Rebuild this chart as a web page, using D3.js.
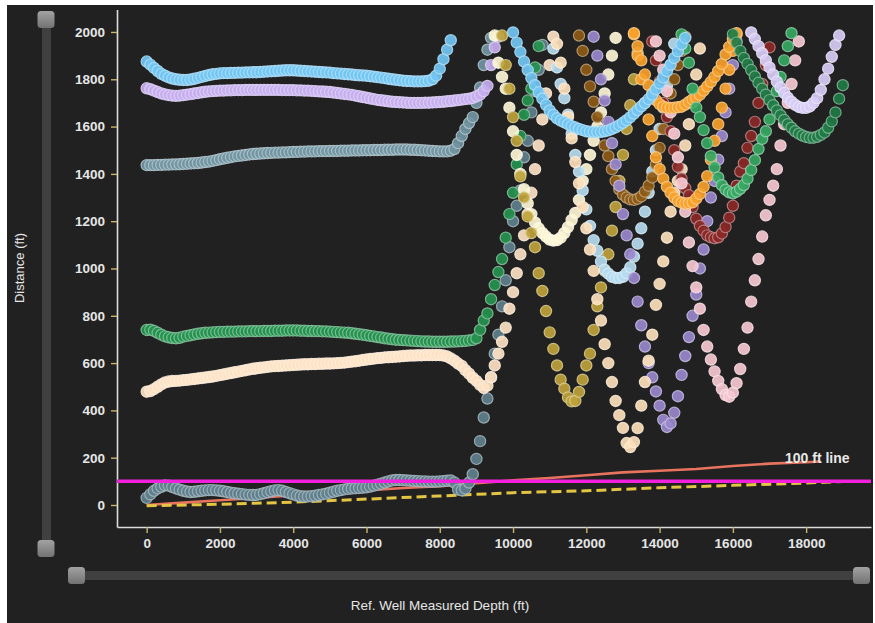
<!DOCTYPE html>
<html>
<head>
<meta charset="utf-8">
<script src="https://cdn.jsdelivr.net/npm/d3@7"></script>
<style>
  html, body { margin: 0; padding: 0; background: #ffffff; }
  svg { display: block; }
  text { font-family: "Liberation Sans", Arial, sans-serif; }
</style>
</head>
<body>
<svg id="chart" width="875" height="623"></svg>
<script>
// Survey stations are every 100 ft of measured depth along each offset well.
const STATION_STEP = 100;

// Centre-to-centre distance (ft) from the reference well, per offset well.
const lightBlueStartA = 0;
const lightBlueA = [
  1875,1862,1848,1835,1823,1815,1808,1803,1800,1798,
  1797,1797,1799,1802,1806,1810,1814,1818,1821,1823,
  1825,1826,1826,1827,1827,1828,1828,1829,1829,1830,
  1830,1831,1832,1833,1834,1835,1836,1837,1838,1838,
  1838,1837,1836,1835,1834,1833,1832,1831,1830,1829,
  1828,1826,1825,1824,1822,1821,1820,1818,1817,1816,
  1815,1813,1811,1809,1807,1805,1802,1800,1798,1796,
  1794,1793,1792,1791,1791,1791,1792,1794,1800,1815,
  1845,1885,1925,1965
];
const lightBlueStartB = 10000;
const lightBlueB = [
  1998,1955,1915,1875,1839,1805,1775,1745,1718,1692,
  1668,1650,1635,1625,1618,1610,1602,1596,1590,1585,
  1580,1578,1577,1577,1578,1580,1584,1590,1597,1606,
  1616,1627,1640,1655,1670,1685,1700,1716,1735,1758,
  1782,1808,1834,1862,1890,1918,1948,1975
];
const lavenderStartA = 0;
const lavenderA = [
  1762,1758,1752,1746,1740,1736,1733,1731,1730,1731,
  1733,1735,1737,1740,1742,1745,1747,1749,1750,1751,
  1752,1752,1753,1753,1754,1754,1754,1755,1755,1755,
  1755,1755,1755,1755,1755,1755,1755,1754,1754,1754,
  1754,1753,1753,1752,1752,1751,1750,1749,1748,1747,
  1746,1744,1742,1740,1738,1736,1734,1731,1728,1725,
  1722,1719,1716,1713,1711,1709,1707,1705,1704,1703,
  1702,1701,1700,1700,1700,1700,1701,1701,1702,1703,
  1704,1705,1707,1708,1710,1712,1714,1716,1718,1721,
  1728,1735,1750,1772,1860,1935,1980
];
const lavenderStartB = 16500;
const lavenderB = [
  1998,1970,1940,1910,1880,
  1850,1820,1790,1765,1742,1722,1705,1692,1683,1679,
  1679,1685,1700,1720,1755,1800,1845,1895,1945,1985
];
const slateTopStart = 0;
const slateTop = [
  1437,1437,1437,1438,1438,1439,1439,1440,1440,1441,
  1442,1443,1444,1445,1446,1448,1450,1452,1455,1458,
  1462,1465,1468,1471,1474,1476,1478,1480,1482,1484,
  1485,1486,1487,1488,1489,1490,1490,1491,1491,1492,
  1493,1493,1494,1494,1495,1495,1495,1496,1496,1496,
  1497,1497,1497,1498,1498,1498,1499,1499,1499,1500,
  1500,1500,1501,1501,1501,1502,1502,1502,1503,1503,
  1503,1503,1502,1502,1501,1500,1499,1498,1497,1496,
  1495,1495,1495,1498,1505,1530,1560,1590,1615,1640,
  1700,1765,1860,1925,1975
];
const slateBottomStart = 0;
const slateBottom = [
  30,45,60,70,77,83,82,76,70,65,
  60,57,55,56,58,60,62,63,63,62,
  60,58,55,52,50,48,46,44,43,42,
  43,46,50,54,58,62,63,60,55,50,
  45,40,37,36,36,37,39,42,45,48,
  52,56,60,63,66,68,70,71,72,73,
  75,78,82,86,90,95,100,104,106,106,
  105,104,103,102,101,100,100,99,99,99,
  100,101,103,104,95,65,62,70,95,130,
  195,270,370,450,540,640,720,840,950,1090,
  1200,1265,1330,1470,1540,1660,1750,1840,1945
];
const greenStart = 0;
const green = [
  740,741,736,728,720,713,709,706,705,707,
  712,715,718,721,724,726,728,729,730,731,
  732,732,733,733,733,734,734,734,735,735,
  735,735,736,736,736,737,737,737,738,738,
  738,738,737,737,736,736,735,735,734,734,
  733,732,731,730,729,728,726,724,722,720,
  718,715,713,710,708,705,703,701,699,698,
  697,696,695,694,693,692,691,691,690,690,
  690,690,690,691,691,692,693,694,696,698,
  705,740,780,810,870,930,985,1040,1130,1230,
  1320,1440,1560,1650,1710,1760,1850,1940
];
const bisqueStartA = 0;
const bisqueA = [
  479,482,490,500,510,518,522,524,525,526,
  528,529,531,533,535,537,539,541,543,546,
  549,552,555,558,561,564,567,570,573,576,
  578,580,582,584,586,587,588,589,590,591,
  592,593,594,595,595,596,596,597,597,598,
  598,599,600,601,602,604,606,608,610,613,
  615,617,619,621,622,624,625,626,627,628,
  630,631,632,632,633,633,634,634,634,634,
  634,632,628,620,610,598,588,570,555,538,
  525,508,495,505,540,590,640,690,750,830,
  900,980,1060,1140,1230,1320,1420,1520,1630,1740,
  1860,1980
];
const bisqueStartB = 11200;
const bisqueB = [
  1950,1870,1760,1640,1550,1450,1360,1260,
  1170,1080,990,870,780,680,600,520,440,380,
  326,262,245,266,325,420,520,610,720,846,
  935,1030,1130,1240,1320,1370,1420,1520,1610,1700,
  1820,1930
];
const cornsilkStart = 9500;
const cornsilk = [
  1985,1870,1810,1760,1680,
  1580,1480,1400,1335,1275,1230,1195,1170,1150,1135,
  1122,1118,1120,1130,1150,1175,1205,1235,1290,1370,
  1420,1480,1540,1600,1660,1740,1820,1900,1975
];
const oliveStart = 9700;
const olive = [
  1985,1860,1760,
  1640,1540,1390,1300,1220,1150,1090,980,905,820,
  730,660,590,530,492,455,438,440,478,530,
  590,640,740,840,920,990,1060,1160,1260,1370,
  1480,1590,1690,1800,1910
];
const paleBlueStart = 11100;
const paleBlue = [
  1930,1850,1780,1720,1650,1570,1480,1410,1330,
  1250,1180,1120,1075,1030,995,978,965,960,960,
  965,980,1005,1050,1105,1170,1240,1320,1410,1500,
  1590,1680,1770,1860,1950
];
const brownStart = 11800;
const brown = [
  1985,1920,
  1840,1770,1705,1640,1580,1520,1475,1420,1370,1335,
  1312,1300,1292,1290,1295,1305,1325,1350,1385,1440,
  1510,1590,1670,1740,1800,1860,1920,1980
];
const purpleStart = 12200;
const purple = [
  1980,1900,1800,1710,1620,1530,1440,1350,
  1230,1140,1060,960,860,760,670,600,540,480,
  420,360,330,345,390,460,550,630,710,800,
  890,1000,1080,1200,1300,1370,1460,1560,1660,1760,
  1860,1960
];
const orangeStartV = 13300;
const orangeV = [
  1990,1900,1800,1700,1630,1560,1470,
  1420,1380,1345,1320,1300,1285,1278,1275,1276,1280,
  1295,1315,1345,1390,1460,1540,1610,1680,1760,1840,
  1920,1990
];
const orangeStartU = 13300;
const orangeU = [
  1995,1940,1880,1820,1775,1740,1712,
  1695,1684,1680,1679,1680,1682,1684,1693,1704,1715,
  1722,1735,1752,1770,1789,1810,1835,1865,1905,1937,
  1970,1995
];
const maroonStart = 13800;
const maroon = [
  1960,1880,
  1790,1700,1640,1580,1500,1430,1380,1340,1310,1260,
  1210,1180,1160,1140,1132,1128,1132,1148,1175,1215,
  1265,1350,1410,1445,1510,1560,1620,1700,1780,1860,
  1935
];
const pinkStart = 13900;
const pink = [
  1960,
  1900,1840,1750,1660,1570,1470,1360,1240,1110,1010,
  920,830,740,670,615,565,525,490,465,458,
  475,515,575,660,750,860,950,1040,1135,1225,
  1290,1350,1420,1520,1610,1700,1780,1880,1960
];
const greenVStart = 14600;
const greenV = [
  1990,1930,1870,1760,1680,1640,1585,1530,1475,1428,
  1385,1352,1333,1322,1318,1325,1337,1353,1380,1416,
  1458,1505,1548,1580,1630,1690,1750,1810,1880,1940,1995
];
const darkGreenStart = 16000;
const darkGreen = [
  1990,1955,1920,1890,1865,1839,1812,1785,1760,1735,
  1712,1690,1668,1648,1628,1610,1595,1580,1570,1562,
  1556,1553,1553,1557,1565,1575,1595,1622,1660,1718,1775
];

// Separation reference curves along the reference well.
const salmonMd   = [0,1000,2000,3000,4000,5000,6000,7000,8000,9000,10000,11000,12000,13000,14000,15000,16000,17000,18000,18400];
const salmonDist = [0,10,20,30,41,52,62,72,80,92,104,114,126,138,145,152,165,175,181,184];
const yellowMd   = [0,2000,4000,6000,8000,10000,12000,14000,16000,18000,19000];
const yellowDist = [-3,3,12,25,38,52,60,73,83,93,99];
const limitDist = 100;

const yTicks = [0,200,400,600,800,1000,1200,1400,1600,1800,2000];
const xTicks = [0,2000,4000,6000,8000,10000,12000,14000,16000,18000];

// Offset wells in draw order, with their marker colours.
const wells = [
  { start: slateBottomStart, dist: slateBottom, color: "#5f7f8d" },
  { start: bisqueStartA,     dist: bisqueA,     color: "#fde2c3" },
  { start: greenStart,       dist: green,       color: "#25924f" },
  { start: slateTopStart,    dist: slateTop,    color: "#7195a2" },
  { start: lavenderStartA,   dist: lavenderA,   color: "#c5aeef" },
  { start: cornsilkStart,    dist: cornsilk,    color: "#fdf6d4" },
  { start: oliveStart,       dist: olive,       color: "#bea23a" },
  { start: paleBlueStart,    dist: paleBlue,    color: "#b5dcf0" },
  { start: brownStart,       dist: brown,       color: "#8d5a14" },
  { start: purpleStart,      dist: purple,      color: "#9a88cc" },
  { start: bisqueStartB,     dist: bisqueB,     color: "#fddfba" },
  { start: maroonStart,      dist: maroon,      color: "#8b2727" },
  { start: pinkStart,        dist: pink,        color: "#f6c8d1" },
  { start: orangeStartV,     dist: orangeV,     color: "#f7a12a" },
  { start: orangeStartU,     dist: orangeU,     color: "#f7a12a" },
  { start: greenVStart,      dist: greenV,      color: "#36a862" },
  { start: darkGreenStart,   dist: darkGreen,   color: "#1f7b45" },
  { start: lavenderStartB,   dist: lavenderB,   color: "#d8cdf6" },
  { start: lightBlueStartA,  dist: lightBlueA,  color: "#72c5f3" },
  { start: lightBlueStartB,  dist: lightBlueB,  color: "#72c5f3" }
];

const svg = d3.select("#chart");
const W = 875, H = 623;

// Dark panel
svg.append("rect").attr("x", 7).attr("y", 5).attr("width", W - 9).attr("height", H - 5)
  .attr("fill", "#212121");

const plot = { left: 117, right: 871, top: 9.5, bottom: 527 };
const x = d3.scaleLinear().domain([-810, 19770]).range([plot.left, plot.right]);
const y = d3.scaleLinear().domain([-93, 2095]).range([plot.bottom, plot.top]);

svg.append("defs").append("clipPath").attr("id", "plot-clip")
  .append("rect").attr("x", plot.left).attr("y", plot.top)
  .attr("width", plot.right - plot.left).attr("height", plot.bottom - plot.top);

// Axes
const axisColor = "#dcdcdc";
const tickColor = "#c9b46a";
const yAxis = svg.append("g").attr("transform", `translate(${plot.left},0)`)
  .call(d3.axisLeft(y).tickValues(yTicks).tickSize(6).tickSizeOuter(0).tickPadding(6).tickFormat(d3.format("d")));
const xAxis = svg.append("g").attr("transform", `translate(0,${plot.bottom})`)
  .call(d3.axisBottom(x).tickValues(xTicks).tickSize(6).tickSizeOuter(0).tickPadding(5).tickFormat(d3.format("d")));
[yAxis, xAxis].forEach(g => {
  g.select(".domain").attr("stroke", axisColor).attr("stroke-width", 1.6);
  g.selectAll(".tick line").attr("stroke", tickColor).attr("stroke-width", 1.4);
  g.selectAll(".tick text").attr("fill", "#e6e6e6").attr("font-size", 13.5)
    .attr("font-weight", "bold").attr("font-family", "'Liberation Sans', Arial, sans-serif");
});

// Axis titles
svg.append("text").attr("x", 440).attr("y", 610).attr("text-anchor", "middle")
  .attr("fill", "#e6e6e6").attr("font-size", 13.5).text("Ref. Well Measured Depth (ft)");
svg.append("text").attr("transform", "translate(24,268) rotate(-90)").attr("text-anchor", "middle")
  .attr("fill", "#e6e6e6").attr("font-size", 13).text("Distance (ft)");

const body = svg.append("g").attr("clip-path", "url(#plot-clip)");

// Separation reference curves
const line = d3.line().x(d => x(d[0])).y(d => y(d[1]));
body.append("path").datum(d3.zip(salmonMd, salmonDist))
  .attr("d", line).attr("fill", "none").attr("stroke", "#e8735e").attr("stroke-width", 2.6);
body.append("path").datum(d3.zip(yellowMd, yellowDist))
  .attr("d", line).attr("fill", "none").attr("stroke", "#e3c443").attr("stroke-width", 3)
  .attr("stroke-dasharray", "10,5");

// Offset-well distance markers
const white = "#ffffff";
wells.forEach(w => {
  const pts = w.dist.map((v, i) => [w.start + i * STATION_STEP, v]).filter(p => p[1] <= 2000);
  const ring = d3.interpolateRgb(w.color, white)(0.45);
  body.append("g").selectAll("circle").data(pts).join("circle")
    .attr("cx", d => x(d[0])).attr("cy", d => y(d[1])).attr("r", 5.6)
    .attr("fill", w.color).attr("fill-opacity", 0.92)
    .attr("stroke", ring).attr("stroke-width", 1.2).attr("stroke-opacity", 0.85);
});

// 100 ft limit line
body.append("line").attr("x1", plot.left).attr("x2", plot.right)
  .attr("y1", y(limitDist)).attr("y2", y(limitDist))
  .attr("stroke", "#f21fdc").attr("stroke-width", 3.5);
svg.append("text").attr("x", 785).attr("y", 463).attr("fill", "#e8e8e8")
  .attr("font-size", 14).attr("font-weight", "bold").text("100 ft line");

// Range sliders
const grad = svg.select("defs").append("linearGradient").attr("id", "knob")
  .attr("x1", 0).attr("y1", 0).attr("x2", 0).attr("y2", 1);
grad.append("stop").attr("offset", "0%").attr("stop-color", "#a2a2a2");
grad.append("stop").attr("offset", "100%").attr("stop-color", "#727272");
const trackColor = "#404040";
svg.append("rect").attr("x", 42).attr("y", 18).attr("width", 9).attr("height", 532)
  .attr("rx", 4).attr("fill", trackColor);
svg.append("rect").attr("x", 75).attr("y", 571).attr("width", 790).attr("height", 9)
  .attr("rx", 4).attr("fill", trackColor);
[[37.5, 11], [37.5, 540], [68, 567], [853, 567]].forEach(([kx, ky]) => {
  svg.append("rect").attr("x", kx).attr("y", ky).attr("width", 17).attr("height", 17)
    .attr("rx", 3.5).attr("fill", "url(#knob)");
});
</script>
</body>
</html>
